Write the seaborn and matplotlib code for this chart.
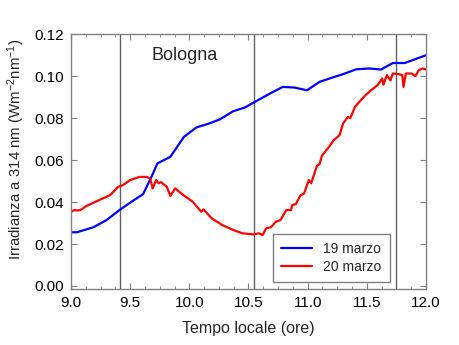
import matplotlib
matplotlib.use("Agg")
import matplotlib.pyplot as plt
import seaborn as sns
import pandas as pd
from matplotlib.ticker import MultipleLocator

# ---- data ----
t_19 = [9.00, 9.05, 9.19, 9.30, 9.41, 9.51, 9.61, 9.68, 9.73, 9.84, 9.955,
        10.06, 10.17, 10.26, 10.37, 10.47, 10.59, 10.69, 10.79, 10.89, 10.995,
        11.10, 11.21, 11.30, 11.41, 11.52, 11.62, 11.72, 11.82, 12.00]
v_19 = [0.0256, 0.0256, 0.0280, 0.0314, 0.0362, 0.0401, 0.0438, 0.0520, 0.0584,
        0.0616, 0.0711, 0.0756, 0.0775, 0.0795, 0.0833, 0.0851, 0.0889, 0.0920,
        0.0949, 0.0946, 0.0933, 0.0973, 0.0994, 0.1010, 0.1033, 0.1037, 0.1032,
        0.1063, 0.1063, 0.1100]

t_20 = [9.00, 9.03, 9.05, 9.08, 9.13, 9.24, 9.33, 9.40, 9.44, 9.50, 9.58, 9.64,
        9.67, 9.69, 9.72, 9.74, 9.76, 9.81, 9.84, 9.88, 9.95, 10.03, 10.10, 10.12,
        10.19, 10.28, 10.37, 10.45, 10.54, 10.59, 10.62, 10.65, 10.69, 10.73,
        10.77, 10.82, 10.86, 10.87, 10.90, 10.94, 10.97, 11.01, 11.03, 11.08,
        11.10, 11.12, 11.18, 11.22, 11.27, 11.30, 11.34, 11.36, 11.40, 11.45,
        11.49, 11.53, 11.59, 11.63, 11.64, 11.67, 11.70, 11.72, 11.77, 11.80,
        11.81, 11.83, 11.88, 11.91, 11.94, 11.97, 12.00]
v_20 = [0.0354, 0.0362, 0.0360, 0.0362, 0.0381, 0.0410, 0.0433, 0.0473, 0.0481,
        0.0505, 0.0520, 0.0520, 0.0512, 0.0465, 0.0505, 0.0490, 0.0495, 0.0473,
        0.0429, 0.0465, 0.0433, 0.0401, 0.0354, 0.0365, 0.0322, 0.0290, 0.0267,
        0.0251, 0.0246, 0.0251, 0.0243, 0.0275, 0.0280, 0.0306, 0.0314, 0.0362,
        0.0362, 0.0386, 0.0390, 0.0433, 0.0441, 0.0505, 0.0490, 0.0575, 0.0580,
        0.0620, 0.0663, 0.0695, 0.0719, 0.0775, 0.0806, 0.0800, 0.0854, 0.0886,
        0.0910, 0.0930, 0.0957, 0.0989, 0.0960, 0.1005, 0.0980, 0.1013, 0.1010,
        0.1005, 0.0949, 0.1013, 0.1013, 0.1000, 0.1029, 0.1037, 0.1033]

series_labels = ["19 marzo", "20 marzo"]
vlines_x = [9.413, 10.55, 11.747]
x_ticks = [9.0, 9.5, 10.0, 10.5, 11.0, 11.5, 12.0]
y_ticks = [0.00, 0.02, 0.04, 0.06, 0.08, 0.10, 0.12]

df = pd.concat([
    pd.DataFrame({"t": t_19, "v": v_19, "giorno": series_labels[0]}),
    pd.DataFrame({"t": t_20, "v": v_20, "giorno": series_labels[1]}),
], ignore_index=True)

sns.set_style("ticks")
plt.rcParams["font.family"] = ["Liberation Sans", "DejaVu Sans"]
plt.rcParams["mathtext.fontset"] = "custom"
plt.rcParams["mathtext.rm"] = "Liberation Sans"
plt.rcParams["mathtext.it"] = "Liberation Sans:italic"
plt.rcParams["mathtext.bf"] = "Liberation Sans:bold"

fig = plt.figure(figsize=(4.6, 3.45), dpi=100)
ax = fig.add_axes([0.1543, 0.1614, 0.7717, 0.7392])

sns.lineplot(data=df, x="t", y="v", hue="giorno", sort=False,
             palette={"19 marzo": "#0000ff", "20 marzo": "#ff0000"},
             linewidth=1.6, ax=ax, legend=True)

for xv in vlines_x:
    ax.axvline(xv, color="#606060", lw=1.0, zorder=1)

ax.set_xlim(9.0, 12.0)
ax.set_ylim(-0.0016, 0.12)
ax.set_xticks(x_ticks)
ax.set_xticklabels([f"{x:.1f}" for x in x_ticks])
ax.set_yticks(y_ticks)
ax.set_yticklabels([f"{y:.2f}" for y in y_ticks])
ax.xaxis.set_minor_locator(MultipleLocator(0.125))

spine_c = "#808080"
for s in ax.spines.values():
    s.set_visible(True)
    s.set_color(spine_c)
    s.set_linewidth(1.0)
ax.tick_params(which="both", direction="in", top=True, right=True,
               color=spine_c, labelsize=11, labelcolor="black", pad=5)
ax.tick_params(which="major", length=4)
ax.tick_params(which="minor", length=2.5)

ax.set_xlabel("Tempo locale (ore)", fontsize=11.5, labelpad=8)
ax.set_ylabel(r"Irradianza a 314 nm (Wm$^{\mathregular{-2}}$nm$^{\mathregular{-1}}$)",
              fontsize=10.8)
ax.yaxis.set_label_coords(-0.125, 0.55)

ax.text(9.96, 0.110, "Bologna", fontsize=13, ha="center", va="center")

leg = ax.legend(loc="lower left", bbox_to_anchor=(0.569, 0.029), borderaxespad=0,
                fontsize=10, frameon=True, fancybox=False, framealpha=1,
                edgecolor=spine_c, handlelength=2.2, title=None,
                borderpad=0.6, labelspacing=0.25, handletextpad=0.8)
leg.get_frame().set_linewidth(1.0)

fig.savefig("out.png", dpi=100)
